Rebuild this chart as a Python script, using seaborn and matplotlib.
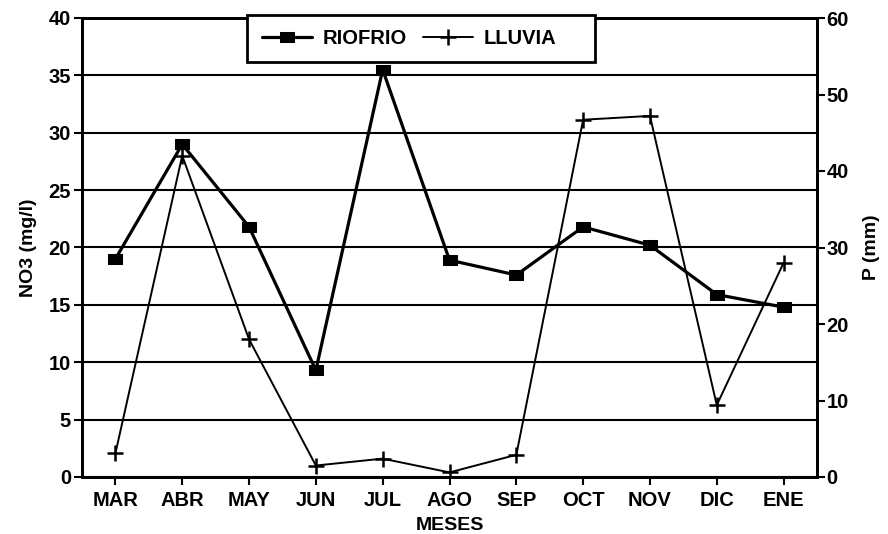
import matplotlib
matplotlib.use("Agg")
import matplotlib.pyplot as plt
from matplotlib.patches import Rectangle
import seaborn as sns
import pandas as pd
import numpy as np

months = ["MAR", "ABR", "MAY", "JUN", "JUL", "AGO", "SEP", "OCT", "NOV", "DIC", "ENE"]
riofrio = [19.0, 29.0, 21.8, 9.3, 35.5, 18.9, 17.6, 21.8, 20.2, 15.9, 14.8]
lluvia = [3.1, 42.0, 18.0, 1.5, 2.4, 0.6, 2.9, 46.7, 47.2, 9.4, 28.0]
left_ticks = [0, 5, 10, 15, 20, 25, 30, 35, 40]
right_ticks = [0, 10, 20, 30, 40, 50, 60]

sns.set_style("white")
plt.rcParams['font.family'] = ['Liberation Sans', 'DejaVu Sans']
plt.rcParams['font.weight'] = 'bold'
for k in ["text.color", "axes.labelcolor", "xtick.color", "ytick.color", "axes.edgecolor"]:
    plt.rcParams[k] = "black"

df = pd.DataFrame({"x": np.arange(len(months)), "riofrio": riofrio, "lluvia": lluvia})

fig = plt.figure(figsize=(8.88, 5.34), dpi=100)
ax = fig.add_axes([82/888, 1-477/534, 735/888, 459/534])
ax2 = ax.twinx()

rect = [(-1.5, -1), (1.5, -1), (1.5, 1), (-1.5, 1), (-1.5, -1)]
sns.lineplot(data=df, x="x", y="riofrio", ax=ax, color="black", linewidth=2.3,
             marker=rect, markersize=10.5, markeredgecolor="black", markerfacecolor="black",
             label="RIOFRIO", legend=False)
sns.lineplot(data=df, x="x", y="lluvia", ax=ax2, color="black", linewidth=1.4,
             marker="+", markersize=12, markeredgewidth=1.8, markeredgecolor="black",
             label="LLUVIA", legend=False)

ax.set_xlim(-0.5, len(months) - 0.5)
ax.set_ylim(0, 40)
ax2.set_ylim(0, 60)
ax.set_yticks(left_ticks)
ax2.set_yticks(right_ticks)
ax.set_xticks(range(len(months)))
ax.set_xticklabels(months)

ax.grid(axis="y", color="black", linewidth=1.5)
ax.grid(axis="x", visible=False)
ax2.grid(False)
ax.set_axisbelow(True)

for a in (ax, ax2):
    for s in a.spines.values():
        s.set_color("black")
        s.set_linewidth(2)
    a.tick_params(colors="black", labelcolor="black", labelsize=14.5, width=1.5, length=6, direction="out")

ax.tick_params(axis="y", left=True, labelleft=True, pad=2)
ax.tick_params(axis="x", bottom=True, pad=4)
ax2.tick_params(axis="y", right=True, labelright=True, pad=1)

ax.set_xlabel("MESES", fontsize=14, fontweight="bold", labelpad=5, color="black")
ax.set_ylabel("NO3 (mg/l)", fontsize=14, fontweight="bold", labelpad=8, color="black")
ax2.set_ylabel("P (mm)", fontsize=14, fontweight="bold", labelpad=10, color="black")

# legend frame box (drawn as a patch) and legend content
fig.patches.append(Rectangle((247/888, 1-62/534), 348/888, 47/534, transform=fig.transFigure,
                             facecolor="white", edgecolor="black", linewidth=2, zorder=5))
h1, l1 = ax.get_legend_handles_labels()
h2, l2 = ax2.get_legend_handles_labels()
leg = fig.legend(h1 + h2, l1 + l2, loc="center left", bbox_to_anchor=(252/888, 1-38.5/534),
                 ncol=2, frameon=False, fontsize=14.5, handlelength=2.5,
                 handletextpad=0.5, columnspacing=0.8, borderpad=0.0)
leg.set_zorder(6)
for t in leg.get_texts():
    t.set_fontweight("bold")
    t.set_color("black")

fig.savefig("out.png", dpi=100)
